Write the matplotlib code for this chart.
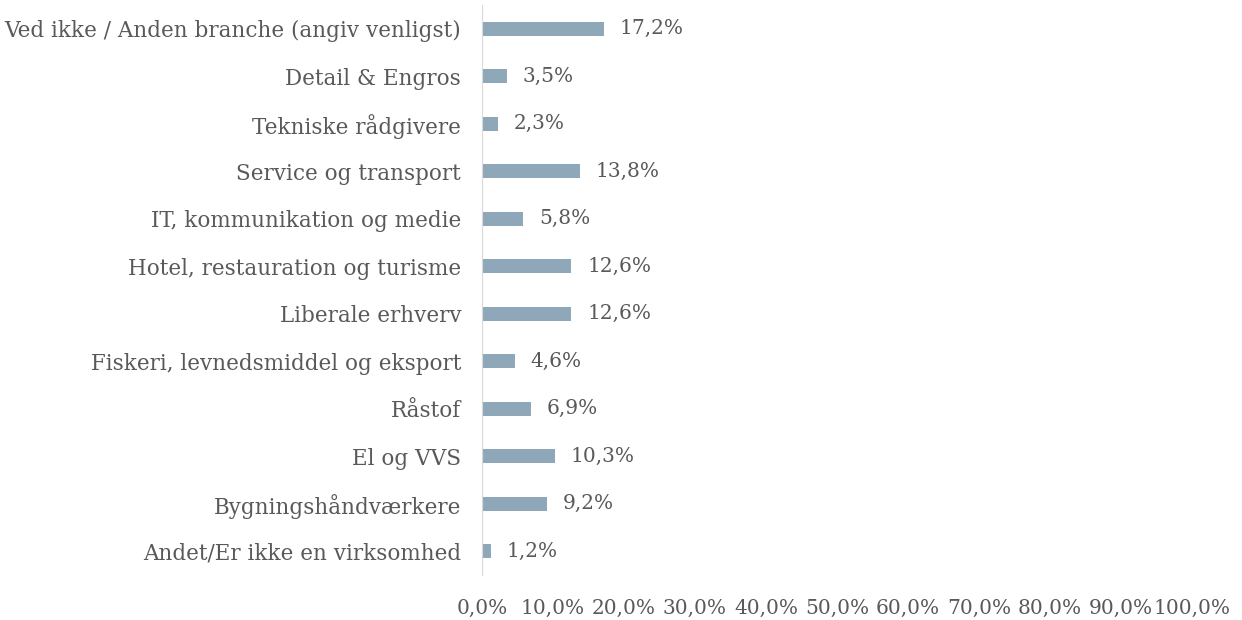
import matplotlib.pyplot as plt
import numpy as np

categories = ["Ved ikke / Anden branche (angiv venligst)", "Detail & Engros",
              "Tekniske rådgivere", "Service og transport",
              "IT, kommunikation og medie", "Hotel, restauration og turisme",
              "Liberale erhverv", "Fiskeri, levnedsmiddel og eksport",
              "Råstof", "El og VVS", "Bygningshåndværkere",
              "Andet/Er ikke en virksomhed"]
values = [17.2, 3.5, 2.3, 13.8, 5.8, 12.6, 12.6, 4.6, 6.9, 10.3, 9.2, 1.2]
xticks = np.arange(0, 101, 10)

plt.rcParams["font.family"] = ["DejaVu Serif"]
text_color = "#595959"

fig = plt.figure(figsize=(12.42, 6.2), dpi=100)
ax = fig.add_axes([482/1242, 1 - 575/620, 710/1242, 570/620])

y = np.arange(len(categories))[::-1]
ax.barh(y, values, height=0.3, color="#8FA8B9")
for yi, v in zip(y, values):
    ax.text(v + 2.2, yi, f"{v:.1f}%".replace(".", ","), va="center", ha="left",
            fontsize=14.5, color=text_color)

ax.set_xlim(0, 100)
ax.set_ylim(-0.5, len(categories) - 0.5)
ax.set_yticks(y)
ax.set_yticklabels(categories, fontsize=15.5)
ax.set_xticks(xticks)
ax.set_xticklabels([f"{t:.1f}%".replace(".", ",") for t in xticks], fontsize=14.5)
ax.tick_params(axis="both", length=0, colors=text_color)
ax.tick_params(axis="x", pad=17)
ax.tick_params(axis="y", pad=15)

for s in ["top", "right", "bottom"]:
    ax.spines[s].set_visible(False)
ax.spines["left"].set_color("#D9D9D9")

fig.savefig("out.png")
